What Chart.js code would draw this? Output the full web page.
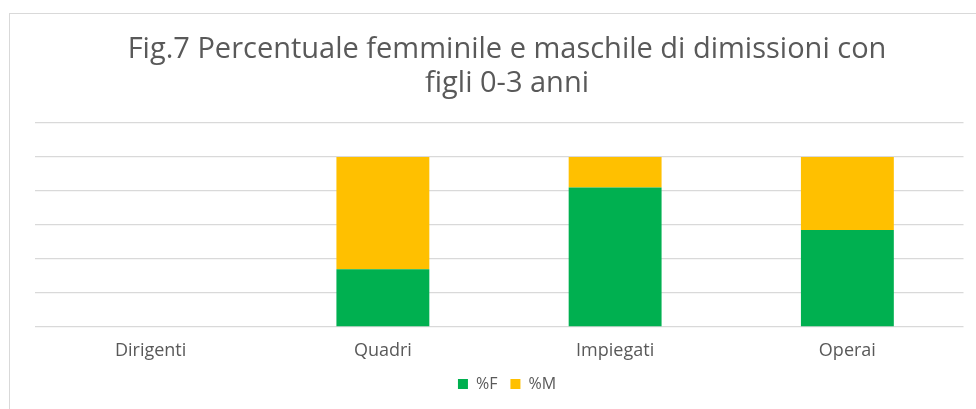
<!DOCTYPE html>
<html>
<head>
<meta charset="utf-8">
<script src="https://cdn.jsdelivr.net/npm/chart.js@4/dist/chart.umd.min.js"></script>
<style>
  html, body { margin: 0; padding: 0; background: #fff; overflow: hidden; }
  #frame {
    position: absolute; left: 9px; top: 13px;
    width: 994px; height: 420px;
    border: 1px solid #d9d9d9; background: #fff;
  }
</style>
</head>
<body>
<div id="frame"><canvas id="dimissioni_chart" width="994" height="388"></canvas></div>
<script>
const categories = ['Dirigenti', 'Quadri', 'Impiegati', 'Operai'];
const perc_f = [0, 34, 82, 57];
const perc_m = [0, 66, 18, 43];
const title_lines = ['Fig.7 Percentuale femminile e maschile di dimissioni con', 'figli 0-3 anni'];

const txt_color = '#595959';
const font_family = '"Open Sans", sans-serif';

const ctx = document.getElementById('dimissioni_chart');

const chart_data = {
  labels: categories,
  datasets: [{
    label: '%F',
    data: perc_f,
    backgroundColor: '#00B050',
    borderWidth: 0,
    categoryPercentage: 1,
    barPercentage: 0.4
  }, {
    label: '%M',
    data: perc_m,
    backgroundColor: '#FFC000',
    borderWidth: 0,
    categoryPercentage: 1,
    barPercentage: 0.4
  }]
};

const config = {
  type: 'bar',
  data: chart_data,
  options: {
    responsive: false,
    animation: false,
    layout: { padding: { left: 0, right: 0, top: 19, bottom: 0 } },
    plugins: {
      title: {
        display: true,
        text: title_lines,
        color: txt_color,
        font: { family: font_family, size: 29, weight: 'normal', lineHeight: 1.17 },
        padding: { top: 0, bottom: 22 }
      },
      legend: {
        position: 'bottom',
        labels: {
          color: txt_color,
          font: { family: font_family, size: 16 },
          boxWidth: 10,
          boxHeight: 10,
          padding: 13
        }
      },
      tooltip: { enabled: false }
    },
    scales: {
      x: {
        stacked: true,
        grid: { display: false, drawTicks: false },
        border: { display: false },
        ticks: { color: txt_color, font: { family: font_family, size: 18 }, padding: 13 },
        afterFit: s => { s.height = 36; }
      },
      y: {
        stacked: true,
        min: 0,
        max: 120,
        ticks: { stepSize: 20, display: false },
        grid: { color: '#d9d9d9', lineWidth: 1.3, drawTicks: false },
        border: { display: false },
        afterFit: s => { s.width = 24.5; }
      },
      y2: {
        position: 'right',
        display: true,
        grid: { display: false },
        ticks: { display: false },
        border: { display: false },
        afterFit: s => { s.width = 40.5; }
      }
    }
  }
};
const dimissioni_chart = new Chart(ctx, config);
</script>
</body>
</html>
